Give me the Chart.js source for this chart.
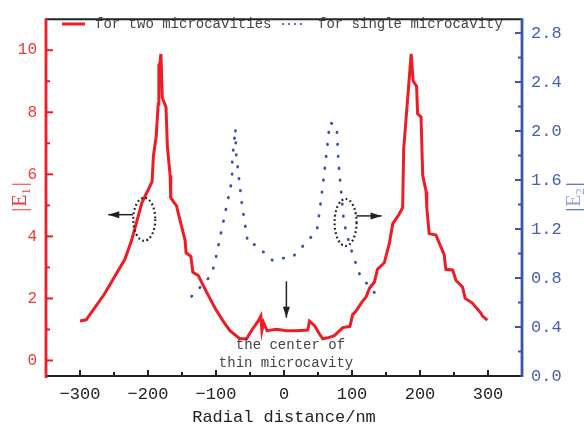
<!DOCTYPE html>
<html><head><meta charset="utf-8">
<script src="https://cdn.jsdelivr.net/npm/chart.js@4/dist/chart.umd.min.js"></script>
<style>html,body{margin:0;padding:0;background:#fff}#wrap{width:584px;height:428px}</style>
</head><body><div id="wrap"><canvas id="c" width="584" height="428"></canvas></div>
<script>
// ---- data ----
const redX=[-300,-291,-265,-234,-224,-209,-194,-192,-188,-185,-184,-182.5,-181,-179,-173.5,-171.5,-167.5,-166.5,-158,-154,-145.5,-144,-137,-134,-126,-114,-101.5,-89.5,-79.5,-65,-55,-48,-38,-34,-32.5,-30,-25,-11,3.5,18,35,37.5,45,52,57,64.5,74,86.5,97,101,106,113.5,121,125.5,133,137.5,147.5,155,160,169.5,174.5,176,182,187,190,195,196.5,201.5,204,209,210,213.5,223.5,228.5,235.5,238,248,253,262.5,266.5,277,289.5,292,299];
const redY=[1.27,1.31,2.11,3.26,3.88,5.08,5.76,6.60,7.22,8.27,9.52,9.57,9.88,8.47,8.16,6.91,5.97,5.24,4.98,4.61,3.88,3.47,3.36,2.84,2.74,2.21,1.69,1.27,0.96,0.70,0.70,0.96,1.27,1.43,0.96,1.22,0.96,1.01,0.96,0.96,0.98,1.27,1.12,0.86,0.70,0.73,0.80,1.06,1.10,1.48,1.59,1.85,2.06,2.32,2.53,2.94,3.15,3.78,4.41,4.72,4.93,6.81,8.48,9.88,9.0,8.84,7.95,7.85,5.97,5.45,4.93,4.09,4.04,3.78,3.41,2.94,2.92,2.58,2.37,2.0,1.85,1.53,1.43,1.30];
const blueX=[-136,-114,-106.5,-101.5,-76.5,-76,-74,-71.5,-70.5,-62.5,-53,-40.5,-28,-16,-4,12.5,36,48.5,55.5,61.5,67.5,77.5,80,85,88,96.5,107.5,112.5,124.5,136];
const blueY=[0.65,0.78,0.83,0.93,1.60,1.79,1.87,2.02,1.82,1.43,1.08,1.07,1.00,0.94,0.96,0.97,1.11,1.19,1.48,1.77,2.07,2.04,1.75,1.45,1.26,1.07,0.89,0.81,0.74,0.66];
const xTicks=[-300,-200,-100,0,100,200,300];
const leftTicks=[0,2,4,6,8,10];
const rightTicks=[0,0.4,0.8,1.2,1.6,2.0,2.4,2.8];
const legendLabels=['for two microcavities','for single microcavity'];
const xTitle='Radial distance/nm';
const noteLines=['the center of','thin microcavity'];

const FONT="'Liberation Mono', monospace";
const RED='#ee1c24', BLUE='#3a54a8';

const decor={id:'decor',afterDraw(chart){
  const c=chart.ctx,a=chart.chartArea,sx=chart.scales.x,sy=chart.scales.y,sy2=chart.scales.y2;
  c.save();
  function seg(x1,y1,x2,y2,col,w){c.strokeStyle=col;c.lineWidth=w;c.beginPath();c.moveTo(x1,y1);c.lineTo(x2,y2);c.stroke();}
  // inward ticks
  for(let v=-300;v<=300;v+=50){const p=sx.getPixelForValue(v);seg(p,a.bottom,p,a.bottom-(v%100===0?6:4),'#222',2);}
  for(let v=0;v<=10;v++){const p=sy.getPixelForValue(v);seg(a.left,p,a.left+(v%2===0?7:4),p,RED,2);}
  for(let i=0;i<=14;i++){const p=sy2.getPixelForValue(i*0.2);seg(a.right,p,a.right-(i%2===0?7:4),p,BLUE,2);}
  // frame
  seg(a.left,a.top,a.right,a.top,'#222',2);
  seg(a.left-1,a.bottom,a.right+1,a.bottom,'#222',2);
  seg(a.left,a.top-1,a.left,a.bottom+2,RED,2.8);
  seg(a.right,a.top-1,a.right,a.bottom+1,BLUE,2.8);
  // legend
  seg(62,24,85,24,RED,3);
  c.fillStyle=BLUE;
  [283,289,295,301].forEach(x=>{c.beginPath();c.arc(x,24,1.1,0,Math.PI*2);c.fill();});
  c.fillStyle='#444';c.font='14px '+FONT;c.textBaseline='middle';c.textAlign='left';
  c.fillText(legendLabels[0],95,24);
  c.fillText(legendLabels[1],318,24);
  // annotations
  function arrowH(x1,x2,y){seg(x1,y,x2,y,'#222',1.5);const d=Math.sign(x2-x1);c.fillStyle='#222';c.beginPath();c.moveTo(x2,y);c.lineTo(x2-d*11,y-3.5);c.lineTo(x2-d*11,y+3.5);c.closePath();c.fill();}
  function ell(cx,cy,rx,ry){c.save();c.setLineDash([1.8,2.6]);c.lineWidth=2.2;c.strokeStyle='#222';c.beginPath();c.ellipse(cx,cy,rx,ry,0,0,Math.PI*2);c.stroke();c.restore();}
  ell(sx.getPixelForValue(-205.5),sy.getPixelForValue(4.55),11,21.5);
  arrowH(sx.getPixelForValue(-222),sx.getPixelForValue(-258.5),sy.getPixelForValue(4.7));
  ell(sx.getPixelForValue(90.5),sy.getPixelForValue(4.45),11,23.5);
  arrowH(sx.getPixelForValue(106.5),sx.getPixelForValue(143.5),sy.getPixelForValue(4.66));
  // down arrow
  const ax=sx.getPixelForValue(3.5),ay1=sy.getPixelForValue(2.55),ay2=sy.getPixelForValue(1.38);
  seg(ax,ay1,ax,ay2,'#222',1.5);
  c.fillStyle='#222';c.beginPath();c.moveTo(ax,ay2);c.lineTo(ax-3.5,ay2-11);c.lineTo(ax+3.5,ay2-11);c.closePath();c.fill();
  c.fillStyle='#444';c.font='14px '+FONT;c.textAlign='center';c.textBaseline='middle';
  c.fillText(noteLines[0],sx.getPixelForValue(9.5),sy.getPixelForValue(0.49));
  c.fillText(noteLines[1],sx.getPixelForValue(3),sy.getPixelForValue(-0.10));
  // axis titles
  function absTitle(cx,cy,sub,colMain,colBar){
    c.save();c.translate(cx,cy);c.rotate(-Math.PI/2);
    const big='20px "Liberation Serif"',small='13px "Liberation Serif"';
    c.font=big;const wb=c.measureText('|').width,wE=c.measureText('E').width;
    c.font=small;const ws=c.measureText(sub).width;
    const total=wb+wE+ws+wb+3;let x=-total/2;
    c.textAlign='left';c.textBaseline='alphabetic';const base=7;
    c.font=big;c.fillStyle=colBar;c.fillText('|',x,base);x+=wb+1;
    c.fillStyle=colMain;c.fillText('E',x,base);x+=wE;
    c.font=small;c.fillText(sub,x,base+4);x+=ws+2;
    c.font=big;c.fillStyle=colBar;c.fillText('|',x,base);
    c.restore();
  }
  absTitle(19,197,'1','#f0383c','#f0383c');
  absTitle(573,197,'2','#95a6d6',BLUE);
  c.restore();
}};

new Chart(document.getElementById('c').getContext('2d'),{
  type:'line',
  data:{datasets:[
    {label:legendLabels[0],data:redX.map((x,i)=>({x,y:redY[i]})),borderColor:RED,borderWidth:3,pointRadius:0,yAxisID:'y',tension:0},
    {label:legendLabels[1],data:blueX.map((x,i)=>({x,y:blueY[i]})),borderColor:BLUE,borderWidth:2.8,borderDash:[0.5,11.5],borderCapStyle:'round',pointRadius:0,yAxisID:'y2',tension:0}
  ]},
  options:{
    responsive:false,animation:false,
    layout:{padding:{top:9,left:0,right:0,bottom:0}},
    plugins:{legend:{display:false},tooltip:{enabled:false}},
    scales:{
      x:{type:'linear',min:-350,max:350,
        afterBuildTicks:s=>{s.ticks=xTicks.map(v=>({value:v}));},
        afterFit:s=>{s.height=52;},
        grid:{display:false,drawTicks:false},border:{display:false},
        ticks:{font:{family:FONT,size:17},color:'#222',padding:8,maxRotation:0,callback:v=>v<0?'\u2212'+(-v):String(v)},
        title:{display:true,text:xTitle,font:{family:FONT,size:17},color:'#222',padding:0}},
      y:{type:'linear',position:'left',min:-0.5,max:11,
        afterBuildTicks:s=>{s.ticks=leftTicks.map(v=>({value:v}));},
        afterFit:s=>{s.width=46;},
        grid:{display:false,drawTicks:false},border:{display:false},
        ticks:{font:{family:FONT,size:16},color:'#f0383c',padding:9,callback:v=>String(v)}},
      y2:{type:'linear',position:'right',min:0,max:2.913,
        afterBuildTicks:s=>{s.ticks=rightTicks.map(v=>({value:v}));},
        afterFit:s=>{s.width=62;},
        grid:{display:false,drawTicks:false},border:{display:false},
        ticks:{font:{family:FONT,size:17},color:'#4a5fb2',padding:9,callback:v=>v.toFixed(1)}}
    }
  },
  plugins:[decor]
});
</script></body></html>
